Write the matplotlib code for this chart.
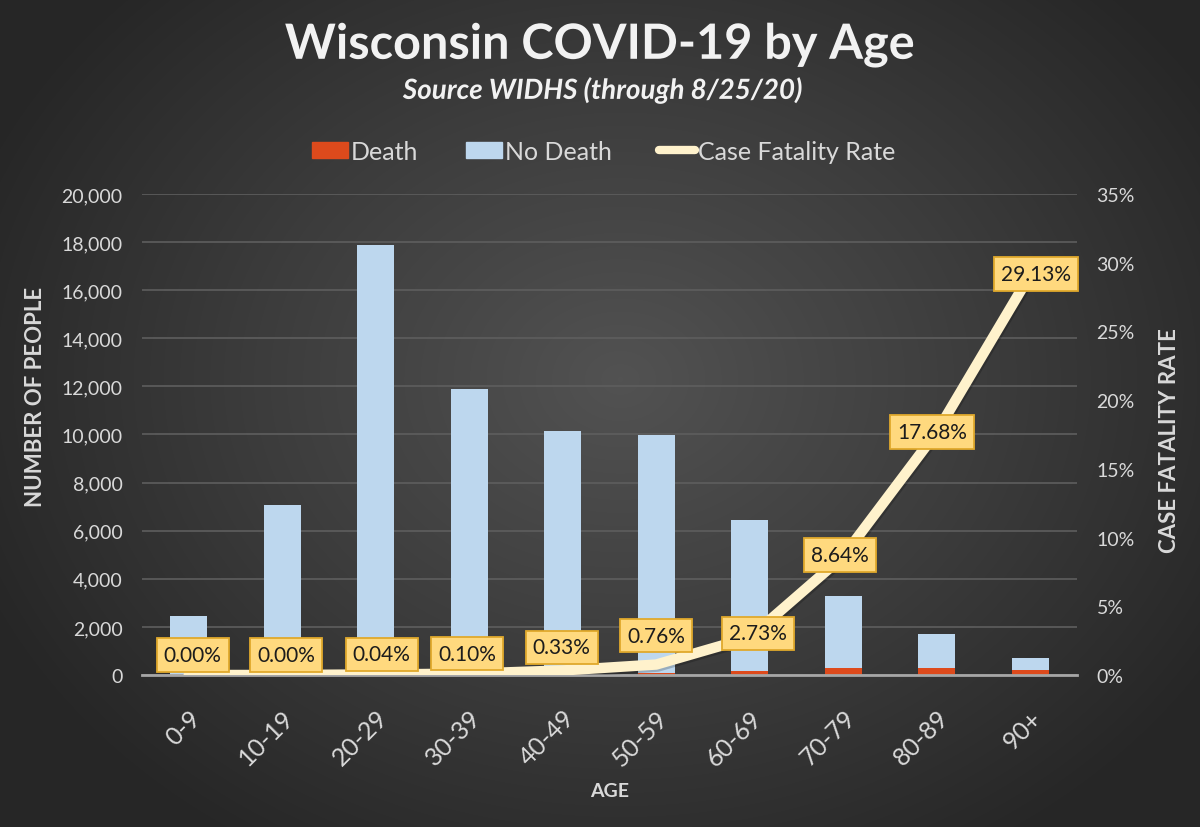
import numpy as np
import matplotlib
matplotlib.use("Agg")
import matplotlib.pyplot as plt
from matplotlib.colors import LinearSegmentedColormap
import matplotlib.patheffects as pe
from matplotlib.ticker import FuncFormatter, MultipleLocator
from matplotlib.lines import Line2D
from matplotlib.patches import Patch

# ---- data ----
ages = ["0-9", "10-19", "20-29", "30-39", "40-49", "50-59", "60-69", "70-79", "80-89", "90+"]
deaths = [0, 0, 7, 12, 33, 76, 176, 285, 304, 201]
no_deaths = [2450, 7050, 17890, 11890, 10120, 9920, 6270, 3015, 1415, 489]
cfr = [0.00, 0.00, 0.04, 0.10, 0.33, 0.76, 2.73, 8.64, 17.68, 29.13]
cfr_labels = ["0.00%", "0.00%", "0.04%", "0.10%", "0.33%", "0.76%", "2.73%", "8.64%", "17.68%", "29.13%"]

# label offsets in pixels (style only)
lab_dx = [4, 4, 6, -2, -1, 0, 8, -3, -5, 6]
lab_dy = [20, 20, 20, 20, 23, 29, 4, 1, 0, 1]

FONT = "Lato"
plt.rcParams['font.family'] = [FONT, 'DejaVu Sans']

fig = plt.figure(figsize=(12, 8.28), dpi=100)

# background radial gradient
bg = fig.add_axes([0, 0, 1, 1], zorder=-10)
yy, xx = np.mgrid[0:828, 0:1200]
r = np.sqrt(((xx - 620) / 700.0) ** 2 + ((yy - 380) / 560.0) ** 2)
cmap_bg = LinearSegmentedColormap.from_list("bg", ["#525252", "#3d3d3d", "#262626"])
bg.imshow(np.clip(r, 0, 1), cmap=cmap_bg, vmin=0, vmax=1, aspect="auto", origin="upper")
bg.axis("off")

ax = fig.add_axes([0.1183, 0.1836, 0.7792, 0.5809])
ax.patch.set_alpha(0)
x = np.arange(len(ages))
w = 0.4
ax.bar(x, deaths, width=w, color="#dd4a1c", zorder=3, label="Death")
ax.bar(x, no_deaths, width=w, bottom=deaths, color="#bdd7ee", zorder=3, label="No Death")

ax.set_xlim(-0.5, len(ages) - 0.5)
ax.set_ylim(0, 20000)
ax.yaxis.set_major_locator(MultipleLocator(2000))
ax.yaxis.set_major_formatter(FuncFormatter(lambda v, p: f"{int(v):,}"))
ax.grid(axis="y", color="#5e5e5e", lw=1.2, zorder=0)
for s in ["top", "left", "right"]:
    ax.spines[s].set_visible(False)
ax.spines["bottom"].set_color("#a6a6a6")
ax.spines["bottom"].set_linewidth(2)
ax.spines["bottom"].set_zorder(4)
ax.tick_params(axis="both", length=0, colors="#d9d9d9", labelsize=14)
ax.tick_params(axis="y", pad=14)
ax.set_xticks(x)
ax.set_xticklabels(ages, rotation=45, ha="right", rotation_mode="anchor", fontsize=18)
ax.tick_params(axis="x", pad=22)

ax.set_ylabel("NUMBER OF PEOPLE", color="#d9d9d9", fontsize=16, fontweight="bold")
ax.yaxis.set_label_coords(-0.103, 0.58)
ax.set_xlabel("AGE", color="#d9d9d9", fontsize=14, fontweight="bold")
ax.xaxis.set_label_coords(0.5, -0.222)

ax2 = ax.twinx()
ax2.set_ylim(0, 35)
ax2.yaxis.set_major_locator(MultipleLocator(5))
ax2.yaxis.set_major_formatter(FuncFormatter(lambda v, p: f"{int(v)}%"))
for s in ["top", "left", "right", "bottom"]:
    ax2.spines[s].set_visible(False)
ax2.tick_params(axis="y", length=0, colors="#d9d9d9", labelsize=14, pad=14)
ax2.set_ylabel("CASE FATALITY RATE", color="#d9d9d9", fontsize=16, fontweight="bold", rotation=90)
ax2.yaxis.set_label_coords(1.088, 0.49)

ax2.plot(x, cfr, color="#fff2cc", lw=7.5, solid_capstyle="round", solid_joinstyle="round", zorder=5,
         path_effects=[pe.SimpleLineShadow(offset=(1, -1.5), alpha=0.2), pe.Normal()])
ax2.set_xlim(-0.5, len(ages) - 0.5)

for i in range(len(ages)):
    ax2.annotate(cfr_labels[i], xy=(x[i], cfr[i]), xytext=(lab_dx[i], lab_dy[i]),
                 textcoords="offset pixels", ha="center", va="center",
                 fontsize=15, color="#1c1c1c", zorder=6,
                 bbox=dict(boxstyle="square,pad=0.33", fc="#ffd97e", ec="#e0a92c", lw=1.3))

# title
fig.text(0.5, 0.945, "Wisconsin COVID-19 by Age", ha="center", va="center", color="#f2f2f2",
         fontsize=35, fontweight="bold",
         path_effects=[pe.SimpleLineShadow(offset=(2, -2), alpha=0.5), pe.Normal()])
fig.text(0.502, 0.890, "Source WIDHS (through 8/25/20)", ha="center", va="center", color="#f2f2f2",
         fontsize=20, fontweight="bold", style="italic",
         path_effects=[pe.SimpleLineShadow(offset=(1, -1), alpha=0.4), pe.Normal()])

handles = [Patch(color="#dd4a1c"), Patch(color="#bdd7ee"),
           Line2D([0], [0], color="#fff2cc", lw=6, solid_capstyle="round")]
leg = fig.legend(handles, ["Death", "No Death", "Case Fatality Rate"], loc="center",
                 bbox_to_anchor=(0.503, 0.816), ncol=3, frameon=False, fontsize=18,
                 labelcolor="#d9d9d9", handlelength=1.45, handletextpad=0.1, columnspacing=1.9,
                 handleheight=0.6)

fig.savefig("out.png", dpi=100)
